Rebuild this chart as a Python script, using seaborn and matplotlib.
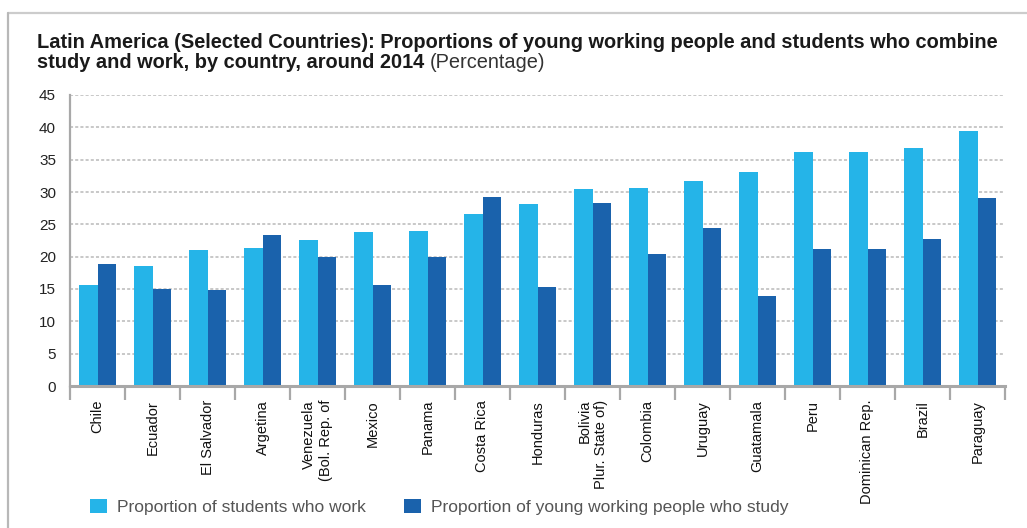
import numpy as np
import pandas as pd
import matplotlib
matplotlib.use("Agg")
import matplotlib.pyplot as plt
from matplotlib.lines import Line2D
import seaborn as sns

# Countries, in display order
countries = [
    "Chile", "Ecuador", "El Salvador", "Argetina", "Venezuela\n(Bol. Rep. of",
    "Mexico", "Panama", "Costa Rica", "Honduras", "Bolivia\nPlur. State of)",
    "Colombia", "Uruguay", "Guatamala", "Peru", "Dominican Rep.", "Brazil",
    "Paraguay",
]

# Percentages per series
students_who_work = [15.6, 18.6, 21.0, 21.3, 22.6, 23.8, 24.0, 26.6, 28.1,
                     30.5, 30.6, 31.7, 33.1, 36.2, 36.2, 36.8, 39.4]
workers_who_study = [18.9, 15.0, 14.8, 23.3, 19.9, 15.6, 19.9, 29.2, 15.3,
                     28.3, 20.4, 24.4, 13.9, 21.2, 21.2, 22.7, 29.1]

series_names = ["Proportion of students who work",
                "Proportion of young working people who study"]
y_ticks = [0, 5, 10, 15, 20, 25, 30, 35, 40, 45]

df = pd.DataFrame({
    "country": countries * 2,
    "value": students_who_work + workers_who_study,
    "series": [series_names[0]] * len(countries) + [series_names[1]] * len(countries),
})

sns.set_theme(style="white")
plt.rcParams["font.family"] = ["Liberation Sans", "DejaVu Sans"]

fig = plt.figure(figsize=(10.27, 5.28), dpi=100)
ax = fig.add_axes([70 / 1027, 142 / 528, 935 / 1027, 291 / 528])

palette = {series_names[0]: "#25b4e8", series_names[1]: "#1a62ac"}
sns.barplot(data=df, x="country", y="value", hue="series", order=countries,
            hue_order=series_names, palette=palette, width=0.655,
            saturation=1, ax=ax, linewidth=0, legend=True)

ax.set_ylim(0, 45)
ax.set_xlim(-0.5, len(countries) - 0.5)
ax.set_yticks(y_ticks)
ax.set_yticklabels([str(v) for v in y_ticks])
ax.set_xlabel("")
ax.set_ylabel("")

# dashed horizontal grid
ax.yaxis.grid(True, linestyle=(0, (2.0, 1.4)), color="#b9b9b9", linewidth=1.1)
ax.set_axisbelow(True)

# spines
for s in ("top", "right"):
    ax.spines[s].set_visible(False)
ax.spines["left"].set_color("#a8a8a8")
ax.spines["left"].set_linewidth(1.6)
ax.spines["bottom"].set_color("#a8a8a8")
ax.spines["bottom"].set_linewidth(2.2)

# ticks: labels at category centers, tick marks at boundaries
ax.tick_params(axis="y", left=False, length=0, pad=10, labelsize=11,
               labelcolor="#222222")
ax.tick_params(axis="x", which="major", bottom=False, length=0, pad=10,
               labelsize=10.5, labelcolor="#111111")
ax.set_xticks(np.arange(-0.5, len(countries), 1.0), minor=True)
ax.tick_params(axis="x", which="minor", bottom=True, length=10, width=1.6,
               color="#a8a8a8", direction="out")
for lbl in ax.get_xticklabels():
    lbl.set_rotation(90)
    lbl.set_ha("center")
    lbl.set_va("top")
    lbl.set_multialignment("right")

# legend under the chart
handles, labels = ax.get_legend_handles_labels()
ax.legend(handles, labels, loc="center left", bbox_to_anchor=(90 / 1027, 21 / 528),
          bbox_transform=fig.transFigure, ncol=2, frameon=False,
          fontsize=12.5, labelcolor="#555555", handlelength=0.98,
          handleheight=0.92, handletextpad=0.57, columnspacing=2.2,
          borderaxespad=0, borderpad=0)

# title
title_size = 14.4
t1 = fig.text(37 / 1027, 1 - 48 / 528,
              "Latin America (Selected Countries): Proportions of young working people and students who combine",
              fontsize=title_size, fontweight="bold", color="#1a1a1a", va="baseline")
t2 = fig.text(37 / 1027, 1 - 67.5 / 528,
              "study and work, by country, around 2014 ",
              fontsize=title_size, fontweight="bold", color="#1a1a1a", va="baseline")
fig.canvas.draw()
bb = t2.get_window_extent()
fig.text(bb.x1 / fig.bbox.width, 1 - 67.5 / 528, "(Percentage)", fontsize=title_size,
         color="#333333", va="baseline")

# light frame along the top and left of the panel
fig.add_artist(Line2D([8 / 1027, 1.0], [1 - 12.5 / 528, 1 - 12.5 / 528],
                      transform=fig.transFigure, color="#cccccc", linewidth=1.6))
fig.add_artist(Line2D([8 / 1027, 8 / 1027], [1 - 12.5 / 528, 0.0],
                      transform=fig.transFigure, color="#b8b8b8", linewidth=1.6))

fig.savefig("out.png", dpi=100)
